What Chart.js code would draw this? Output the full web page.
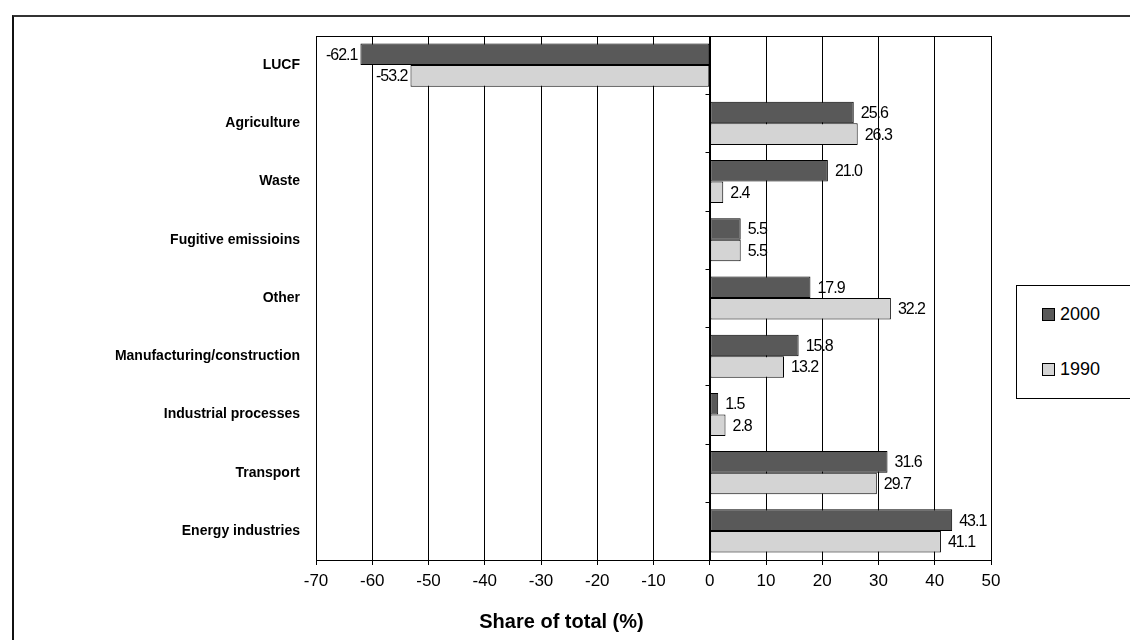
<!DOCTYPE html>
<html lang="en">
<head>
    <meta charset="UTF-8">
    <title>Share of total</title>
    <script src="https://cdn.jsdelivr.net/npm/chart.js"></script>
    <style>
        html, body { margin: 0; padding: 0; background: #fff; overflow: hidden; }
        #wrap { position: relative; width: 1130px; height: 640px; }
        #frame {
            position: absolute; left: 12px; top: 15px; width: 1200px; height: 700px;
            border-top: 2px solid #333; border-left: 2px solid #111;
        }
        #legenda {
            position: absolute; left: 1016px; top: 285px; width: 130px; height: 112px;
            border: 1px solid #000; background: #fff;
            font-family: "Liberation Sans", Arial, sans-serif; font-size: 18px;
        }
        .item { position: absolute; left: 25px; height: 20px; line-height: 20px; }
        .item span.box {
            display: inline-block; width: 11px; height: 11px; border: 1px solid #000;
            vertical-align: -1px; margin-right: 5px;
        }
        canvas { position: absolute; left: 0; top: 0; }
    </style>
</head>
<body>
<div id="wrap">
    <div id="frame"></div>
    <canvas id="barra" width="1130" height="640"></canvas>
    <div id="legenda"></div>
</div>

<script>
    var categorias = ['LUCF', 'Agriculture', 'Waste', 'Fugitive emissioins', 'Other',
        'Manufacturing/construction', 'Industrial processes', 'Transport', 'Energy industries']
    var valores2000 = [-62.1, 25.6, 21.0, 5.5, 17.9, 15.8, 1.5, 31.6, 43.1]
    var valores1990 = [-53.2, 26.3, 2.4, 5.5, 32.2, 13.2, 2.8, 29.7, 41.1]
    var series = ['2000', '1990']
    var ticksX = [-70, -60, -50, -40, -30, -20, -10, 0, 10, 20, 30, 40, 50]
    var tituloX = 'Share of total (%)'

    var cores = ['#595959', '#d4d4d4']
    var fonte = '"Liberation Sans", Arial, sans-serif'

    // moldura da area do grafico + marcas das categorias no zero + rotulos
    var moldura = {
        id: 'moldura',
        afterDatasetsDraw: function (chart) {
            var ctx = chart.ctx
            var a = chart.chartArea
            var x = chart.scales.x
            ctx.save()
            ctx.strokeStyle = '#000'
            ctx.lineWidth = 1
            ctx.strokeRect(a.left + 0.5, a.top + 0.5, a.right - a.left, a.bottom - a.top)
            var x0 = Math.round(x.getPixelForValue(0)) + 0.5
            ctx.beginPath()
            ctx.moveTo(x0, a.top)
            ctx.lineTo(x0, a.bottom)
            var passo = (a.bottom - a.top) / categorias.length
            for (var i = 1; i < categorias.length; i++) {
                var yy = Math.round(a.top + passo * i) + 0.5
                ctx.moveTo(x0 - 5, yy)
                ctx.lineTo(x0, yy)
            }
            ctx.stroke()

            // rotulos dos valores
            ctx.font = '16px ' + fonte
            ctx.letterSpacing = '-1px'
            ctx.fillStyle = '#000'
            ctx.textBaseline = 'middle'
            chart.data.datasets.forEach(function (ds, d) {
                var meta = chart.getDatasetMeta(d)
                meta.data.forEach(function (bar, i) {
                    var v = ds.data[i]
                    var txt = v.toFixed(1)
                    if (v < 0) {
                        ctx.textAlign = 'right'
                        ctx.fillText(txt, bar.x - 3, bar.y + 1)
                    } else {
                        ctx.textAlign = 'left'
                        ctx.fillText(txt, bar.x + 7, bar.y + 1)
                    }
                })
            })

            // titulo do eixo x (no original fica deslocado para a esquerda)
            ctx.letterSpacing = '0px'
            ctx.font = 'bold 20px ' + fonte
            ctx.textAlign = 'center'
            ctx.fillText(tituloX, (a.left + a.right) / 2 - 92, a.bottom + 62)
            ctx.restore()
        }
    }

    function grafico() {
        Chart.defaults.color = '#000'
        Chart.defaults.font.family = fonte

        var ctx = document.getElementById('barra')
        new Chart(ctx, {
            type: 'bar',
            data: {
                labels: categorias,
                datasets: [{
                    label: series[0],
                    data: valores2000,
                    backgroundColor: cores[0],
                    borderColor: '#000',
                    borderWidth: 1,
                    borderSkipped: false
                }, {
                    label: series[1],
                    data: valores1990,
                    backgroundColor: cores[1],
                    borderColor: '#000',
                    borderWidth: 1,
                    borderSkipped: false
                }]
            },
            plugins: [moldura],
            options: {
                indexAxis: 'y',
                responsive: false,
                animation: false,
                layout: { padding: { left: 0, right: 139, top: 36, bottom: 0 } },
                categoryPercentage: 0.74,
                barPercentage: 1.0,
                plugins: {
                    legend: { display: false },
                    tooltip: { enabled: false }
                },
                scales: {
                    x: {
                        min: ticksX[0],
                        max: ticksX[ticksX.length - 1],
                        afterBuildTicks: function (s) {
                            s.ticks = ticksX.map(function (v) { return { value: v } })
                        },
                        afterFit: function (s) { s.height = 80 },
                        grid: {
                            color: '#000',
                            lineWidth: 1,
                            tickLength: 5,
                            drawOnChartArea: true
                        },
                        border: { color: '#000', width: 1 },
                        ticks: {
                            font: { size: 17 },
                            padding: 6
                        }
                    },
                    y: {
                        afterFit: function (s) { s.width = 316 },
                        grid: { display: false, drawTicks: false },
                        border: { display: true, color: '#000' },
                        ticks: {
                            font: { size: 14, weight: 'bold' },
                            padding: 16
                        }
                    }
                }
            }
        })

        // legenda com caixa, como no original
        var leg = document.getElementById('legenda')
        var topos = [18, 73]
        for (var i = 0; i < series.length; i++) {
            var it = document.createElement('div')
            it.className = 'item'
            it.style.top = topos[i] + 'px'
            it.innerHTML = '<span class="box" style="background:' + cores[i] + '"></span>' + series[i]
            leg.appendChild(it)
        }
    }

    grafico()
</script>
</body>
</html>
